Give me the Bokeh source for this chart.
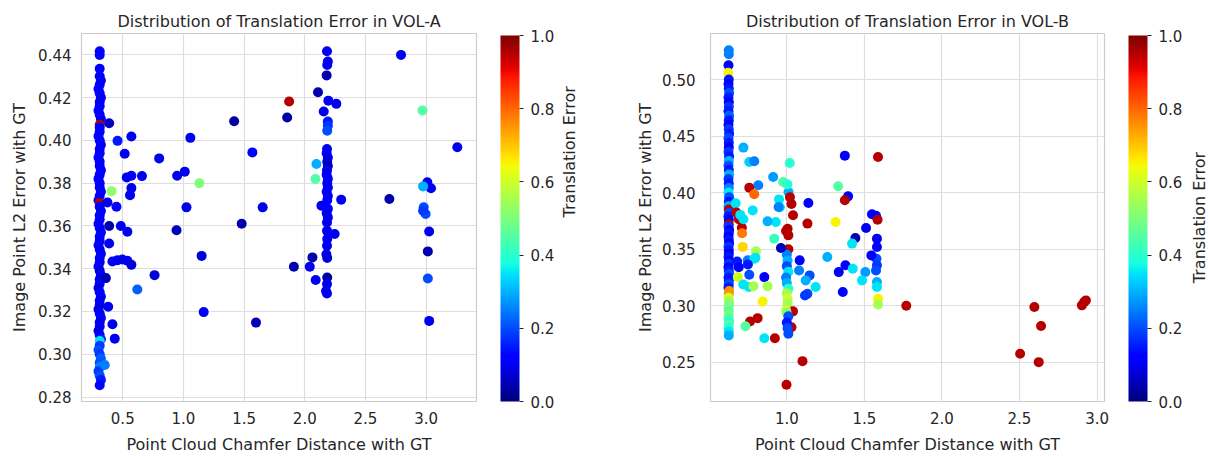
import numpy as np
from bokeh.plotting import figure
from bokeh.models import (LinearColorMapper, ColorBar, FixedTicker, PrintfTickFormatter,
                          Range1d, LinearAxis, ColumnDataSource, Title)
from bokeh.layouts import row
from bokeh.embed import file_html
from bokeh.resources import INLINE

# ---------------- DATA ----------------
# VOL-A : dense column near x = 0.31
a_col_y = [0.4417, 0.4400, 0.4335, 0.4300, 0.4280, 0.4260, 0.4240, 0.4220, 0.4200, 0.4180,
           0.4160, 0.4140, 0.4120, 0.4100, 0.4073, 0.4060, 0.4040, 0.4020, 0.4000, 0.3980,
           0.3960, 0.3940, 0.3920, 0.3900, 0.3880, 0.3860, 0.3840, 0.3820, 0.3800, 0.3780,
           0.3760, 0.3740, 0.3720, 0.3707, 0.3690, 0.3670, 0.3650, 0.3630, 0.3610, 0.3590,
           0.3570, 0.3550, 0.3530, 0.3510, 0.3490, 0.3470, 0.3450, 0.3430, 0.3410, 0.3390,
           0.3370, 0.3350, 0.3330, 0.3310, 0.3290, 0.3270, 0.3250, 0.3230, 0.3210, 0.3190,
           0.3170, 0.3150, 0.3130, 0.3110, 0.3090, 0.3070, 0.3062, 0.3040, 0.3020, 0.3000,
           0.2980, 0.2960, 0.2940, 0.2920, 0.2900, 0.2880, 0.2855]
a_col_x = [0.31, 0.31, 0.31, 0.31, 0.32, 0.31, 0.30, 0.31, 0.32, 0.31,
           0.31, 0.30, 0.31, 0.32, 0.31, 0.31, 0.31, 0.30, 0.31, 0.32,
           0.31, 0.31, 0.30, 0.31, 0.31, 0.32, 0.31, 0.30, 0.31, 0.31,
           0.32, 0.31, 0.30, 0.31, 0.31, 0.32, 0.31, 0.31, 0.30, 0.31,
           0.32, 0.31, 0.31, 0.30, 0.31, 0.32, 0.31, 0.31, 0.30, 0.31,
           0.32, 0.31, 0.31, 0.30, 0.31, 0.32, 0.31, 0.31, 0.30, 0.31,
           0.32, 0.31, 0.31, 0.30, 0.31, 0.32, 0.31, 0.31, 0.30, 0.31,
           0.32, 0.31, 0.31, 0.30, 0.31, 0.32, 0.31]
a_col_err = [0.12, 0.12, 0.12, 0.12, 0.13, 0.12, 0.12, 0.13, 0.12, 0.12,
             0.12, 0.13, 0.12, 0.12, 0.95, 0.12, 0.13, 0.12, 0.12, 0.13,
             0.12, 0.12, 0.13, 0.12, 0.12, 0.12, 0.13, 0.12, 0.12, 0.12,
             0.13, 0.12, 0.12, 0.95, 0.12, 0.12, 0.13, 0.12, 0.10, 0.12,
             0.12, 0.13, 0.12, 0.12, 0.10, 0.12, 0.13, 0.12, 0.12, 0.08,
             0.12, 0.10, 0.13, 0.08, 0.12, 0.12, 0.10, 0.12, 0.08, 0.12,
             0.13, 0.10, 0.12, 0.08, 0.12, 0.15, 0.35, 0.18, 0.20, 0.18,
             0.22, 0.20, 0.25, 0.18, 0.20, 0.15, 0.13]

# VOL-A : remaining points
a_x = [0.388, 0.457, 0.571, 1.057, 1.418, 0.516, 0.800, 1.568, 0.533, 0.571,
       0.658, 0.948, 1.011, 1.131, 0.407, 0.571, 0.560, 0.374, 0.448, 1.025,
       1.653, 1.480, 0.388, 0.484, 0.538, 0.943, 0.388, 0.415, 0.457, 0.497,
       0.538, 0.571, 1.150, 0.762, 0.620, 0.361, 0.380, 1.167, 1.598, 0.415,
       0.434, 0.352,
       2.183, 2.190, 2.185, 2.180, 2.109, 2.194, 2.260, 2.156, 2.190, 2.190,
       2.185, 2.183, 2.180, 2.190, 2.185, 2.190, 2.183, 2.180, 2.190, 2.185,
       2.190, 2.180, 2.190, 2.185, 2.137, 2.190, 2.180, 2.190, 2.183, 2.183,
       2.246, 2.185, 2.183, 2.178, 2.185, 2.063, 1.910, 2.041, 2.090, 2.185,
       2.183, 2.175, 2.183,
       2.793, 1.871, 1.855, 2.970, 3.257, 2.096, 2.088, 2.300, 2.697, 3.010,
       3.040, 2.975, 2.980, 2.996, 2.975, 3.025, 3.014, 3.014, 3.025]
a_y = [0.4080, 0.3998, 0.4018, 0.4012, 0.4090, 0.3938, 0.3916, 0.3944, 0.3827, 0.3835,
       0.3833, 0.3835, 0.3854, 0.3800, 0.3762, 0.3777, 0.3744, 0.3710, 0.3690, 0.3687,
       0.3687, 0.3610, 0.3600, 0.3600, 0.3573, 0.3580, 0.3518, 0.3434, 0.3440, 0.3443,
       0.3437, 0.3418, 0.3460, 0.3370, 0.3303, 0.3356, 0.3222, 0.3197, 0.3148, 0.3140,
       0.3073, 0.2950,
       0.4417, 0.4369, 0.4353, 0.4304, 0.4225, 0.4186, 0.4171, 0.4135, 0.4088, 0.4069,
       0.4045, 0.3960, 0.3940, 0.3920, 0.3900, 0.3880, 0.3860, 0.3840, 0.3820, 0.3800,
       0.3780, 0.3760, 0.3740, 0.3720, 0.3695, 0.3680, 0.3660, 0.3640, 0.3616, 0.3577,
       0.3562, 0.3539, 0.3507, 0.3468, 0.3450, 0.3453, 0.3409, 0.3409, 0.3347, 0.3359,
       0.3328, 0.3296, 0.3284,
       0.4400, 0.4182, 0.4107, 0.4140, 0.3968, 0.3890, 0.3820, 0.3723, 0.3726, 0.3804,
       0.3776, 0.3785, 0.3687, 0.3656, 0.3671, 0.3574, 0.3481, 0.3354, 0.3156]
a_err = [0.06, 0.15, 0.10, 0.10, 0.03, 0.10, 0.10, 0.12, 0.10, 0.10,
         0.10, 0.10, 0.10, 0.50, 0.52, 0.10, 0.10, 0.10, 0.12, 0.10,
         0.10, 0.04, 0.04, 0.10, 0.10, 0.05, 0.10, 0.10, 0.10, 0.10,
         0.10, 0.08, 0.08, 0.08, 0.22, 0.05, 0.10, 0.10, 0.05, 0.10,
         0.10, 0.25,
         0.10, 0.10, 0.10, 0.04, 0.04, 0.10, 0.10, 0.10, 0.15, 0.18,
         0.20, 0.10, 0.10, 0.10, 0.08, 0.05, 0.10, 0.10, 0.10, 0.12,
         0.10, 0.12, 0.10, 0.12, 0.10, 0.12, 0.10, 0.10, 0.10, 0.10,
         0.10, 0.10, 0.10, 0.10, 0.08, 0.04, 0.04, 0.10, 0.10, 0.03,
         0.10, 0.10, 0.10,
         0.10, 0.95, 0.03, 0.45, 0.10, 0.30, 0.45, 0.10, 0.04, 0.10,
         0.10, 0.30, 0.20, 0.20, 0.18, 0.10, 0.04, 0.20, 0.10]

# VOL-B : dense column near x = 0.63
b_col_y = [0.5259, 0.5224, 0.5127, 0.5059, 0.5000, 0.4960, 0.4920, 0.4880, 0.4840, 0.4800,
           0.4760, 0.4720, 0.4680, 0.4640, 0.4600, 0.4560, 0.4520, 0.4480, 0.4440, 0.4400,
           0.4360, 0.4320, 0.4280, 0.4240, 0.4200, 0.4160, 0.4120, 0.4080, 0.4040, 0.4000,
           0.3960, 0.3920, 0.3880, 0.3850, 0.3820, 0.3790, 0.3760, 0.3720, 0.3700, 0.3670,
           0.3640, 0.3610, 0.3580, 0.3550, 0.3520, 0.3490, 0.3460, 0.3430, 0.3400, 0.3370,
           0.3340, 0.3310, 0.3280, 0.3250, 0.3220, 0.3190, 0.3160, 0.3130, 0.3100, 0.3070,
           0.3040, 0.3010, 0.2980, 0.2950, 0.2920, 0.2890, 0.2860, 0.2830, 0.2800, 0.2770,
           0.2737]
b_col_x = [0.626, 0.626, 0.624, 0.622, 0.626, 0.624, 0.626, 0.628, 0.624, 0.626,
           0.626, 0.624, 0.628, 0.626, 0.624, 0.626, 0.628, 0.624, 0.626, 0.626,
           0.624, 0.628, 0.626, 0.624, 0.626, 0.628, 0.624, 0.626, 0.626, 0.624,
           0.628, 0.626, 0.624, 0.626, 0.628, 0.624, 0.626, 0.626, 0.624, 0.628,
           0.626, 0.624, 0.626, 0.628, 0.624, 0.626, 0.626, 0.624, 0.628, 0.626,
           0.624, 0.626, 0.628, 0.624, 0.626, 0.626, 0.624, 0.628, 0.626, 0.624,
           0.626, 0.628, 0.624, 0.626, 0.626, 0.624, 0.628, 0.626, 0.624, 0.626,
           0.626]
b_col_err = [0.25, 0.25, 0.12, 0.65, 0.15, 0.12, 0.15, 0.20, 0.15, 0.12,
             0.18, 0.15, 0.22, 0.15, 0.12, 0.18, 0.15, 0.20, 0.15, 0.12,
             0.18, 0.15, 0.30, 0.20, 0.15, 0.30, 0.18, 0.15, 0.25, 0.35,
             0.20, 0.15, 0.30, 0.95, 0.20, 0.15, 0.12, 0.95, 0.18, 0.12,
             0.15, 0.10, 0.15, 0.12, 0.18, 0.15, 0.10, 0.15, 0.12, 0.18,
             0.12, 0.15, 0.20, 0.15, 0.15, 0.20, 0.15, 0.75, 0.75, 0.60,
             0.55, 0.50, 0.50, 0.45, 0.50, 0.45, 0.40, 0.45, 0.40, 0.35,
             0.30]

# VOL-B : remaining points
b_x = [0.690, 0.710, 0.712, 0.716, 0.680, 0.690, 0.670, 0.675, 0.700, 0.720,
       1.011, 1.020, 0.976, 1.004, 1.040, 1.030, 1.005, 0.995, 1.010, 1.010,
       1.000, 1.005, 1.000, 1.010, 0.995, 1.000, 1.010, 1.000, 1.005, 1.005,
       1.040, 0.995, 1.000, 1.010, 1.030, 1.000, 1.005, 1.010, 0.950, 0.955,
       0.720, 0.758, 0.790, 1.019, 1.374, 1.588, 0.912, 0.816, 0.758, 0.790,
       1.331, 1.395, 1.374, 1.139, 0.780, 0.947, 1.549, 1.575, 1.133, 1.314,
       0.929, 0.876, 0.919, 0.962, 1.511, 1.442, 1.421, 1.581, 1.581, 1.578,
       1.581, 1.575, 1.545, 1.506, 1.485, 1.581, 1.581, 1.588, 1.588, 1.770,
       1.261, 1.378, 1.335, 1.425, 1.361, 1.083, 1.079, 1.147, 1.122, 1.186,
       1.133, 1.117, 0.855, 0.758, 0.684, 0.748, 0.790, 0.801, 0.755, 0.876,
       0.844, 0.763, 0.812, 0.733, 0.855, 0.923, 1.101, 0.998, 0.798, 0.749,
       0.719, 0.785, 1.585,
       2.596, 2.639, 2.504, 2.624, 2.902, 2.917, 2.928]
b_y = [0.3765, 0.3690, 0.3640, 0.3520, 0.3390, 0.3340, 0.3905, 0.3825, 0.3803, 0.3765,
       0.4005, 0.3960, 0.4094, 0.4073, 0.3800, 0.3900, 0.3681, 0.3660, 0.3622, 0.3500,
       0.3450, 0.3400, 0.3350, 0.3300, 0.3250, 0.3200, 0.3150, 0.3110, 0.3062, 0.3020,
       0.2950, 0.2960, 0.2935, 0.2906, 0.2810, 0.2851, 0.2800, 0.2752, 0.3940, 0.3870,
       0.4398, 0.4270, 0.4277, 0.4262, 0.4327, 0.4315, 0.4138, 0.4065, 0.4044, 0.3985,
       0.4056, 0.3967, 0.3932, 0.3908, 0.3843, 0.3873, 0.3808, 0.3796, 0.3726, 0.3740,
       0.3740, 0.3746, 0.3593, 0.3510, 0.3687, 0.3598, 0.3549, 0.3593, 0.3519, 0.3416,
       0.3357, 0.3312, 0.3445, 0.3297, 0.3224, 0.3209, 0.3165, 0.3062, 0.3010, 0.3000,
       0.3430, 0.3357, 0.3297, 0.3327, 0.3121, 0.3401, 0.3312, 0.3268, 0.3224, 0.3165,
       0.3106, 0.3091, 0.3253, 0.3274, 0.3253, 0.3401, 0.3416, 0.3481, 0.3166, 0.3172,
       0.3038, 0.2861, 0.2890, 0.2819, 0.2713, 0.2713, 0.2510, 0.2301, 0.3424, 0.3365,
       0.3188, 0.3173, 0.3760,
       0.2988, 0.2820, 0.2575, 0.2501, 0.3003, 0.3032, 0.3047]
b_err = [0.95, 0.95, 0.78, 0.68, 0.15, 0.12, 0.35, 0.95, 0.35, 0.35,
         0.30, 0.95, 0.45, 0.40, 0.95, 0.95, 0.95, 0.95, 0.95, 0.95,
         0.25, 0.30, 0.20, 0.35, 0.25, 0.30, 0.40, 0.55, 0.60, 0.55,
         0.95, 0.60, 0.50, 0.20, 0.95, 0.15, 0.20, 0.20, 0.35, 0.35,
         0.30, 0.33, 0.25, 0.40, 0.12, 0.95, 0.28, 0.25, 0.95, 0.80,
         0.45, 0.12, 0.95, 0.12, 0.35, 0.25, 0.12, 0.12, 0.95, 0.65,
         0.35, 0.30, 0.42, 0.06, 0.10, 0.04, 0.35, 0.12, 0.12, 0.20,
         0.18, 0.20, 0.12, 0.28, 0.35, 0.30, 0.35, 0.65, 0.55, 0.95,
         0.30, 0.12, 0.12, 0.35, 0.12, 0.12, 0.25, 0.20, 0.30, 0.35,
         0.20, 0.18, 0.12, 0.20, 0.60, 0.25, 0.35, 0.55, 0.35, 0.55,
         0.65, 0.95, 0.95, 0.45, 0.35, 0.95, 0.95, 0.95, 0.35, 0.15,
         0.35, 0.55, 0.95,
         0.95, 0.95, 0.95, 0.95, 0.95, 0.95, 0.95]

a_xticks = [0.5, 1.0, 1.5, 2.0, 2.5, 3.0]
a_yticks = [0.28, 0.30, 0.32, 0.34, 0.36, 0.38, 0.40, 0.42, 0.44]
b_xticks = [0.5, 1.0, 1.5, 2.0, 2.5, 3.0]
b_yticks = [0.25, 0.30, 0.35, 0.40, 0.45, 0.50]
cb_ticks = [0.0, 0.2, 0.4, 0.6, 0.8, 1.0]
cb_title = "Translation Error"

# ---------------- jet colormap ----------------
def jet256():
    t = np.linspace(0, 1, 256)
    r = np.interp(t, [0, 0.35, 0.66, 0.89, 1.0], [0, 0, 1, 1, 0.5])
    g = np.interp(t, [0, 0.125, 0.375, 0.64, 0.91, 1.0], [0, 0, 1, 1, 0, 0])
    b = np.interp(t, [0, 0.11, 0.34, 0.65, 1.0], [0.5, 1, 1, 0, 0])
    return ["#%02x%02x%02x" % (int(round(R * 255)), int(round(G * 255)), int(round(B * 255)))
            for R, G, B in zip(r, g, b)]

JET = jet256()
FONT = "DejaVu Sans"
TXT = "#262626"
GRID = "#dedede"
H = 456


def make_panel(xs, ys, cs, title, xr, yr, xticks, yticks, width,
               bl, br, cb_off, ylab_standoff, ylab_gap, cbt_standoff):
    mapper = LinearColorMapper(palette=JET, low=0.0, high=1.0)
    p = figure(width=width, height=H, output_backend="svg", toolbar_location=None,
               x_range=Range1d(*xr), y_range=Range1d(*yr),
               min_border_left=bl, min_border_right=br, min_border_top=33, min_border_bottom=55)
    p.title.text = title
    p.title.align = "center"
    p.title.text_font = FONT
    p.title.text_font_size = "16px"
    p.title.text_font_style = "normal"
    p.title.text_color = TXT
    p.title.standoff = 5
    p.outline_line_color = "#cccccc"
    p.outline_line_width = 1.2
    p.background_fill_color = "white"
    p.border_fill_color = "white"

    for ax in (p.xaxis[0], p.yaxis[0]):
        ax.axis_line_color = None
        ax.major_tick_line_color = None
        ax.minor_tick_line_color = None
        ax.major_tick_out = 0
        ax.major_tick_in = 0
        ax.minor_tick_out = 0
        ax.minor_tick_in = 0
        ax.major_label_text_font = FONT
        ax.major_label_text_font_size = "15px"
        ax.major_label_text_color = TXT
        ax.axis_label_text_font = FONT
        ax.axis_label_text_font_size = "16px"
        ax.axis_label_text_font_style = "normal"
        ax.axis_label_text_color = TXT
    p.xaxis.ticker = FixedTicker(ticks=xticks)
    p.yaxis.ticker = FixedTicker(ticks=yticks)
    p.xaxis.formatter = PrintfTickFormatter(format="%.1f")
    p.yaxis.formatter = PrintfTickFormatter(format="%.2f")
    p.xaxis.axis_label = "Point Cloud Chamfer Distance with GT"
    p.yaxis.axis_label = "Image Point L2 Error with GT"
    p.xaxis.major_label_standoff = 10
    p.xaxis.axis_label_standoff = 8
    p.yaxis.major_label_standoff = ylab_standoff
    p.yaxis.axis_label_standoff = ylab_gap
    p.grid.grid_line_color = GRID
    p.grid.grid_line_width = 1.2

    src = ColumnDataSource(dict(x=xs, y=ys, c=cs))
    p.scatter("x", "y", source=src, size=10,
              fill_color={"field": "c", "transform": mapper}, line_color=None)

    cb = ColorBar(color_mapper=mapper, location=(cb_off, 0), width=19, height=366,
                  margin=0, padding=0,
                  ticker=FixedTicker(ticks=cb_ticks),
                  formatter=PrintfTickFormatter(format="%.1f"),
                  major_tick_in=0, major_tick_out=4, major_tick_line_color=TXT,
                  minor_tick_line_color=None, bar_line_color=None, border_line_color=None,
                  background_fill_alpha=0,
                  major_label_text_font=FONT, major_label_text_font_size="15px",
                  major_label_text_color=TXT, label_standoff=7)
    p.add_layout(cb)

    if cbt_standoff is not None:
        # colour-bar title: rotated text on a tick-less axis on the right side
        mid = 0.5 * (yr[0] + yr[1])
        tax = LinearAxis(ticker=FixedTicker(ticks=[mid]),
                         major_label_overrides={mid: cb_title},
                         major_label_orientation=np.pi / 2,
                         major_label_standoff=cbt_standoff,
                         axis_line_color=None, major_tick_line_color=None,
                         minor_tick_line_color=None, major_tick_out=0, major_tick_in=0,
                         minor_tick_out=0, minor_tick_in=0,
                         major_label_text_font=FONT, major_label_text_font_size="16px",
                         major_label_text_color=TXT)
        p.add_layout(tax, "right")
    return p


pa = make_panel(a_col_x + a_x, a_col_y + a_y, a_col_err + a_err,
                "Distribution of Translation Error in VOL-A",
                (0.16, 3.415), (0.2779, 0.4500), a_xticks, a_yticks,
                600, 81, 124, 419, 10, 6, 93)
pb = make_panel(b_col_x + b_x, b_col_y + b_y, b_col_err + b_err,
                "Distribution of Translation Error in VOL-B",
                (0.508, 3.048), (0.2153, 0.5407), b_xticks, b_yticks,
                588, 110, 84, 418, 15, 4, None)

# narrow strip at the far right carrying the second colour-bar title (reads bottom-to-top)
pc = figure(width=20, height=H, output_backend="svg", toolbar_location=None,
            x_axis_location=None, y_axis_location=None,
            min_border_left=0, min_border_right=0, min_border_top=33, min_border_bottom=55)
pc.outline_line_color = None
pc.grid.visible = False
pc.title.text = ""
pc.add_layout(Title(text=cb_title, align="center", text_font=FONT, text_font_size="16px",
                    text_font_style="normal", text_color=TXT, standoff=0, offset=0), "left")

layout = row(pa, pb, pc)
open("out.html", "w").write(file_html(layout, INLINE))
